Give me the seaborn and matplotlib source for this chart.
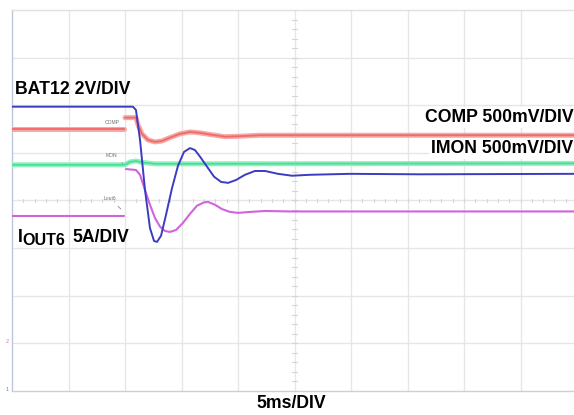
import numpy as np
import pandas as pd
import matplotlib
matplotlib.use("Agg")
import matplotlib.pyplot as plt
import seaborn as sns

# ---- data (time in ms, level in scope divisions) ----
bat_t = [0, 10.7, 10.97, 11.33, 11.77, 12.21, 12.57, 12.83, 13.19, 13.63, 14.16, 14.69,
         15.22, 15.75, 16.19, 16.64, 17.26, 17.88, 18.50, 19.12, 19.82, 20.62, 21.50,
         22.39, 23.54, 24.78, 26.37, 29.91, 36.1, 49.9]
bat_v = [5.97, 5.97, 5.90, 5.27, 4.22, 3.42, 3.15, 3.13, 3.26, 3.70, 4.26, 4.73,
         5.02, 5.10, 5.06, 4.92, 4.71, 4.50, 4.39, 4.37, 4.43, 4.54, 4.62,
         4.62, 4.56, 4.52, 4.54, 4.56, 4.55, 4.56]

comp_t = [0, 9.91, np.nan, 10.0, 10.97, 11.15, 11.5, 12.04, 12.66, 13.27, 13.98, 14.87,
          15.75, 16.64, 17.70, 18.85, 20.18, 21.95, 25.5, 49.9]
comp_v = [5.50, 5.50, np.nan, 5.74, 5.74, 5.59, 5.40, 5.27, 5.23, 5.25, 5.32, 5.40,
          5.44, 5.42, 5.38, 5.34, 5.35, 5.37, 5.37, 5.37]

imon_t = [0, 10.0, 10.44, 10.97, 11.5, 12.66, 49.9]
imon_v = [4.75, 4.75, 4.81, 4.83, 4.80, 4.77, 4.78]

iout_t = [0, 9.91, np.nan, 10.09, 10.97, 11.33, 11.77, 12.21, 12.66, 13.1, 13.54, 13.98,
          14.51, 15.13, 15.75, 16.37, 16.99, 17.35, 17.97, 18.58, 19.29, 20.0, 21.06,
          22.39, 24.6, 49.9]
iout_v = [3.68, 3.68, np.nan, 4.66, 4.64, 4.54, 4.22, 3.91, 3.63, 3.45, 3.36, 3.34,
          3.38, 3.53, 3.72, 3.89, 3.96, 3.97, 3.91, 3.82, 3.76, 3.74, 3.76,
          3.78, 3.77, 3.77]


def to_df(t, v):
    t = np.asarray(t, float)
    v = np.asarray(v, float)
    seg = np.cumsum(np.isnan(t))
    df = pd.DataFrame({"t": t, "v": v, "seg": seg})
    return df.dropna()


sns.set_theme(style="white")
plt.rcParams['font.family'] = ['Liberation Sans', 'DejaVu Sans']

W, H = 574, 415
fig = plt.figure(figsize=(W / 100, H / 100), dpi=100)
ax = fig.add_axes([12 / W, 24 / H, 565 / W, 381 / H])
ax.set_xlim(0, 50)
ax.set_ylim(0, 8)

grid_c = "#e6e6e6"
for xg in np.arange(5, 50, 5):
    ax.axvline(xg, color=grid_c, lw=1.0, zorder=0)
for yg in np.arange(1, 8, 1):
    ax.axhline(yg, color=grid_c, lw=1.0, zorder=0)
# center cross minor ticks
for xm in np.arange(0, 50.01, 1.0):
    ax.plot([xm, xm], [3.96, 4.04], color="#d4d4d4", lw=0.8, zorder=0)
for ym in np.arange(0, 8.01, 0.2):
    ax.plot([24.8, 25.2], [ym, ym], color="#d4d4d4", lw=0.8, zorder=0)

for side in ["top", "right"]:
    ax.spines[side].set_color("#e0e0e0")
ax.spines["left"].set_color("#bcc6dc")
ax.spines["bottom"].set_color("#d0d0d0")
for s in ax.spines.values():
    s.set_linewidth(1.0)
ax.set_xticks([])
ax.set_yticks([])

kw = dict(x="t", y="v", units="seg", estimator=None, sort=False, ax=ax, legend=False)
comp_df = to_df(comp_t, comp_v)
imon_df = to_df(imon_t, imon_v)
sns.lineplot(data=comp_df, color="#f6a8a6", lw=3.6, zorder=3, **kw)
sns.lineplot(data=comp_df, color="#ef6b68", lw=1.3, zorder=3, **kw)
sns.lineplot(data=imon_df, color="#92efc0", lw=3.6, zorder=3, **kw)
sns.lineplot(data=imon_df, color="#48e096", lw=1.3, zorder=3, **kw)
sns.lineplot(data=to_df(iout_t, iout_v), color="#d064dc", lw=1.5, zorder=4, **kw)
sns.lineplot(data=to_df(bat_t, bat_v), color="#3c3cc2", lw=1.4, zorder=5, **kw)
ax.set_xlabel("")
ax.set_ylabel("")

# small probe tags
tag_kw = dict(fontsize=3.6, color="#707070", ha="center", va="center", zorder=6)
ax.annotate("COMP", xy=(9.95, 5.50), xytext=(8.9, 5.63),
            arrowprops=dict(arrowstyle="-", color="#888888", lw=0.6), **tag_kw)
ax.annotate("MON", xy=(10.0, 4.75), xytext=(8.8, 4.95),
            arrowprops=dict(arrowstyle="-", color="#888888", lw=0.6), **tag_kw)
ax.annotate("Lout6", xy=(9.8, 3.78), xytext=(8.7, 4.04),
            arrowprops=dict(arrowstyle="-", color="#888888", lw=0.6), **tag_kw)
ax.text(-0.4, 1.03, "2", fontsize=4, color="#e070b0", ha="center", va="center", zorder=6, clip_on=False)
ax.text(-0.4, 0.03, "1", fontsize=4, color="#6080d0", ha="center", va="center", zorder=6, clip_on=False)

# labels
bold = dict(fontweight="bold", color="black", fontsize=12.7)
ax.text(0.27, 6.34, "BAT12 2V/DIV", ha="left", va="center", zorder=7, **bold)
ax.text(49.7, 5.74, "COMP 500mV/DIV", ha="right", va="center", zorder=7,
        bbox=dict(facecolor="white", edgecolor="none", pad=1.5), **bold)
ax.text(49.7, 5.09, "IMON 500mV/DIV", ha="right", va="center", zorder=7,
        bbox=dict(facecolor="white", edgecolor="none", pad=1.5), **bold)

fig.text(18 / W, 1 - 241.5 / H, "I", ha="left", va="baseline", **bold)
fig.text(22.5 / W, 1 - 245 / H, "OUT6", ha="left", va="baseline",
         fontweight="bold", color="black", fontsize=11.6)
fig.text(72 / W, 1 - 241.5 / H, "5A/DIV", ha="left", va="baseline", **bold)
fig.text(291 / W, 1 - 408 / H, "5ms/DIV", ha="center", va="baseline", **bold)

fig.savefig("out.png", dpi=100, facecolor="white")
